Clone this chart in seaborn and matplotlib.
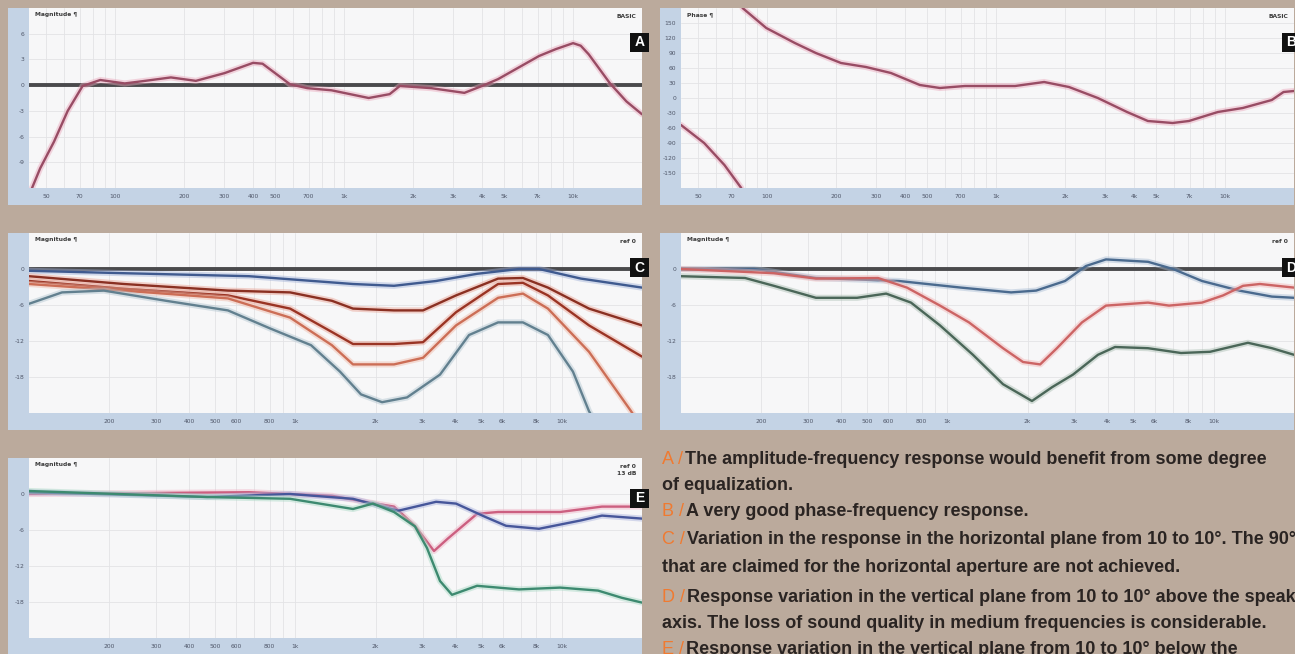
import numpy as np
import pandas as pd
import matplotlib
matplotlib.use('Agg')
import matplotlib.pyplot as plt
import matplotlib.patheffects as pe
from matplotlib import font_manager as fm
from matplotlib.patches import Rectangle
from matplotlib.text import Annotation
from matplotlib.ticker import FixedLocator, FixedFormatter, LogLocator, NullFormatter
import seaborn as sns

# ---------------- data ----------------
# Panel A : magnitude (dB)
A_freq = [43, 47, 54, 62, 72, 86, 110, 135, 175, 225, 300, 400, 440, 580, 690, 880, 1280,
          1580, 1750, 2400, 3350, 4000, 4700, 7100, 8400, 10000, 10800, 11700, 14500, 17100, 20000]
A_db = [-12.2, -9.7, -6.6, -3.0, -0.1, 0.6, 0.2, 0.5, 0.9, 0.5, 1.4, 2.6, 2.5, 0.1, -0.35, -0.6, -1.5,
        -1.05, -0.1, -0.35, -0.9, -0.1, 0.7, 3.4, 4.2, 4.9, 4.6, 3.6, 0.2, -1.9, -3.4]

# Panel B : phase (deg), wrapped part at low frequency + main part
B_low_freq = [42, 53, 65, 77]
B_low_deg = [-54, -90, -134, -180]
B_freq = [78, 99, 132, 163, 210, 270, 347, 464, 568, 730, 1210, 1620, 2080, 2780, 3730,
          4600, 5900, 6950, 9300, 11950, 16000, 18000, 20000]
B_deg = [180, 140, 110, 90, 70, 62, 50, 26, 20, 24, 24, 32, 22, 0, -28,
         -46, -50, -46, -28, -20, -4, 12, 14]

# Panel C : horizontal plane
C1_freq = [100, 227, 670, 1645, 2345, 3373, 4807, 6911, 8210, 11800, 20000]
C1_db = [-0.3, -0.7, -1.2, -2.5, -2.8, -2.0, -0.8, 0.0, 0.0, -1.6, -3.1]
C2_freq = [100, 227, 558, 955, 1371, 1645, 2345, 3013, 4009, 5764, 7147, 8869, 12650, 20000]
C2_db = [-1.2, -2.5, -3.6, -3.9, -5.3, -6.6, -6.9, -6.9, -4.4, -1.6, -1.5, -3.1, -6.6, -9.4]
C3_freq = [100, 227, 558, 955, 1371, 1645, 2345, 3013, 4009, 5764, 7147, 8869, 12650, 20000]
C3_db = [-2.0, -3.3, -4.4, -6.6, -10.5, -12.5, -12.5, -12.2, -7.2, -2.5, -2.3, -4.4, -9.4, -14.6]
C4_freq = [100, 227, 558, 955, 1371, 1645, 2345, 3013, 4009, 5764, 7147, 8869, 12650, 18200, 20000]
C4_db = [-2.5, -3.6, -4.9, -8.1, -12.7, -15.9, -15.9, -14.8, -9.4, -4.8, -4.1, -6.6, -13.8, -23.7, -26.5]
C5_freq = [100, 133, 191, 327, 558, 803, 1145, 1470, 1763, 2115, 2625, 3490, 4486, 5764,
           7147, 8869, 11010, 12650, 14000]
C5_db = [-5.8, -3.9, -3.6, -5.3, -6.9, -9.9, -12.7, -17.1, -20.9, -22.2, -21.4, -17.6, -11.0, -8.9,
         -8.9, -11.0, -17.1, -23.7, -27.0]

# Panel D : vertical plane above
D1_freq = [100, 188, 321, 658, 1124, 1734, 2153, 2763, 3313, 3937, 5662, 7030, 9032, 12450, 16530, 20000]
D1_db = [0.0, 0.0, -1.5, -2.0, -3.1, -3.9, -3.6, -2.0, 0.5, 1.6, 1.2, 0.0, -2.0, -3.6, -4.6, -4.8]
D2_freq = [100, 223, 321, 549, 705, 938, 1205, 1617, 1922, 2229, 2577, 3200, 3937, 5662, 6790,
           9032, 10840, 12880, 14900, 20000]
D2_db = [0.0, -0.7, -1.6, -1.5, -3.1, -6.1, -8.9, -13.2, -15.5, -15.9, -13.2, -8.9, -6.1, -5.6, -6.1,
         -5.6, -4.4, -2.8, -2.5, -3.1]
D3_freq = [100, 174, 223, 321, 458, 589, 730, 938, 1247, 1617, 2077, 2471, 2961, 3674, 4258,
           5662, 7532, 9677, 13430, 16530, 20000]
D3_db = [-1.2, -1.5, -2.8, -4.8, -4.8, -4.1, -5.6, -9.4, -14.3, -19.2, -22.0, -19.7, -17.6, -14.3, -13.0,
         -13.2, -14.0, -13.8, -12.3, -13.2, -14.3]

# Panel E : vertical plane below
E1_freq = [100, 670, 1371, 1826, 2345, 2810, 3313, 3740, 4807, 5764, 9850, 14150, 20000]
E1_db = [0.0, 0.3, -0.3, -1.3, -2.1, -5.3, -9.5, -7.4, -3.3, -3.0, -3.0, -2.1, -2.1]
E2_freq = [100, 466, 955, 1645, 2426, 3373, 4009, 5150, 6175, 8210, 11800, 14150, 20000]
E2_db = [0.3, -0.5, 0.0, -0.8, -2.8, -1.3, -1.6, -3.8, -5.3, -5.8, -4.4, -3.6, -4.1]
E3_freq = [100, 466, 955, 1645, 1955, 2345, 2810, 3118, 3490, 3871, 4807, 6911, 9850, 13680, 16800, 20000]
E3_db = [0.5, -0.5, -0.8, -2.5, -1.6, -3.0, -5.4, -9.0, -14.5, -16.8, -15.3, -15.9, -15.6, -16.1, -17.3, -18.1]

REF_LEVEL = 0.0

AB_ticks = [50, 70, 100, 200, 300, 400, 500, 700, 1000, 2000, 3000, 4000, 5000, 7000, 10000]
AB_labels = ['50', '70', '100', '200', '300', '400', '500', '700', '1k', '2k', '3k', '4k', '5k', '7k', '10k']
CDE_ticks = [200, 300, 400, 500, 600, 800, 1000, 2000, 3000, 4000, 5000, 6000, 8000, 10000]
CDE_labels = ['200', '300', '400', '500', '600', '800', '1k', '2k', '3k', '4k', '5k', '6k', '8k', '10k']
A_yticks = [6, 3, 0, -3, -6, -9]
B_yticks = [150, 120, 90, 60, 30, 0, -30, -60, -90, -120, -150]
CDE_yticks = [0, -6, -12, -18]

captions = [
    ("A /", "The amplitude-frequency response would benefit from some degree", 460),
    ("", "of equalization.", 485),
    ("B /", "A very good phase-frequency response.", 512),
    ("C /", "Variation in the response in the horizontal plane from 10 to 10°. The 90°", 540),
    ("", "that are claimed for the horizontal aperture are not achieved.", 568),
    ("D /", "Response variation in the vertical plane from 10 to 10° above the speaker", 597),
    ("", "axis. The loss of sound quality in medium frequencies is considerable.", 623),
    ("E /", "Response variation in the vertical plane from 10 to 10° below the", 650),
]

# ---------------- style ----------------
W, H = 1295, 654
BG = '#bbaa9c'
STRIP = '#c4d3e5'
FACE = '#f7f7f8'
GRID = '#e3e3e6'

sns.set_theme(style='white')
plt.rcParams['font.family'] = ['DejaVu Sans']


def pick_font(cands):
    for c in cands:
        try:
            fm.findfont(fm.FontProperties(family=c), fallback_to_default=False)
            return c
        except Exception:
            pass
    return 'DejaVu Sans'


CAP_FONT = pick_font(['Liberation Sans', 'Arimo', 'DejaVu Sans'])
BOX_FONT = pick_font(['Liberation Sans Narrow', 'DejaVu Sans Condensed', 'Liberation Sans'])

fig = plt.figure(figsize=(W / 100, H / 100), dpi=100, facecolor=BG)


def frac(x0, y0, x1, y1):
    return [x0 / W, 1 - y1 / H, (x1 - x0) / W, (y1 - y0) / H]


def to_df(series):
    parts = []
    for name, f, v in series:
        parts.append(pd.DataFrame({'freq': f, 'val': v, 'curve': name}))
    return pd.concat(parts, ignore_index=True)


def panel(ox, oy, xlim, xticks, xlabels, ylim, yticks, title, corner, letter, series, colors, halos,
          zero=True, letter_dy=25):
    outer = fig.add_axes(frac(ox, oy, ox + 634, oy + 197))
    outer.set_facecolor(STRIP)
    outer.set_xticks([])
    outer.set_yticks([])
    for s in outer.spines.values():
        s.set_visible(False)

    ax = fig.add_axes(frac(ox + 21, oy, ox + 634, oy + 180))
    ax.set_facecolor(FACE)
    ax.set_xscale('log')
    ax.set_xlim(*xlim)
    ax.set_ylim(*ylim)
    for s in ax.spines.values():
        s.set_visible(False)
    ax.xaxis.set_major_locator(FixedLocator(xticks))
    ax.xaxis.set_major_formatter(FixedFormatter(xlabels))
    ax.xaxis.set_minor_locator(LogLocator(base=10, subs=np.arange(2, 10)))
    ax.xaxis.set_minor_formatter(NullFormatter())
    ax.yaxis.set_major_locator(FixedLocator(yticks))
    ax.yaxis.set_major_formatter(FixedFormatter([str(t) for t in yticks]))
    ax.tick_params(axis='both', which='both', length=0, labelsize=4.3, labelcolor='#4f5668')
    ax.tick_params(axis='x', pad=4.2)
    ax.tick_params(axis='y', pad=3.5)
    ax.grid(True, which='both', axis='x', color=GRID, lw=0.6)
    ax.grid(True, which='major', axis='y', color=GRID, lw=0.6)

    if zero:
        ax.axhline(REF_LEVEL, color='#4a4a4c', lw=2.8, zorder=2)

    df = to_df(series)
    sns.lineplot(data=df, x='freq', y='val', hue='curve', palette=colors, sort=False,
                 estimator=None, legend=False, ax=ax, lw=1.7, zorder=3)
    names = [s[0] for s in series]
    for line, nm in zip(ax.lines[1 if zero else 0:], names):
        line.set_solid_joinstyle('round')
        line.set_path_effects([pe.Stroke(linewidth=4.4, foreground=halos[nm], alpha=0.45), pe.Normal()])
    ax.set_xlabel('')
    ax.set_ylabel('')

    ax.text(6 / 613, 1 - 4 / 180, title, transform=ax.transAxes, fontsize=4.3, fontweight='bold',
            color='#3a3a3a', va='top', ha='left')
    ax.text(1 - 6 / 613, 1 - 6 / 180, corner, transform=ax.transAxes, fontsize=4.3, fontweight='bold',
            color='#3a3a3a', va='top', ha='right', linespacing=1.5)

    # letter box
    bx0, by0 = ox + 622, oy + letter_dy
    fig.add_artist(Rectangle((bx0 / W, 1 - (by0 + 19) / H), 19 / W, 19 / H,
                             transform=fig.transFigure, facecolor='#111111', edgecolor='none', zorder=10))
    fig.text((bx0 + 9.5) / W, 1 - (by0 + 9.5) / H, letter, color='white', fontsize=10, fontweight='bold',
             ha='center', va='center', family=BOX_FONT, zorder=11)
    return ax


# Panel A
panel(8, 8, (42, 20000), AB_ticks, AB_labels, (-12, 9), A_yticks, 'Magnitude ¶', 'BASIC', 'A',
      [('A', A_freq, A_db)], {'A': '#984c64'}, {'A': '#eaa7bb'})

# Panel B
panel(660, 8, (42, 20000), AB_ticks, AB_labels, (-180, 180), B_yticks, 'Phase ¶', 'BASIC', 'B',
      [('B', B_freq, B_deg), ('Blow', B_low_freq, B_low_deg)],
      {'B': '#984c64', 'Blow': '#984c64'}, {'B': '#eaa7bb', 'Blow': '#eaa7bb'}, zero=False)

# Panel C
panel(8, 233, (100, 20000), CDE_ticks, CDE_labels, (-24, 6), CDE_yticks, 'Magnitude ¶', 'ref 0', 'C',
      [('c1', C1_freq, C1_db), ('c2', C2_freq, C2_db), ('c3', C3_freq, C3_db),
       ('c4', C4_freq, C4_db), ('c5', C5_freq, C5_db)],
      {'c1': '#3f5a8f', 'c2': '#8a3022', 'c3': '#9a3424', 'c4': '#cc6e56', 'c5': '#62808f'},
      {'c1': '#9fb0d8', 'c2': '#e8a090', 'c3': '#e8a090', 'c4': '#f0b8a6', 'c5': '#b0c4d0'})

# Panel D
panel(660, 233, (100, 20000), CDE_ticks, CDE_labels, (-24, 6), CDE_yticks, 'Magnitude ¶', 'ref 0', 'D',
      [('d1', D1_freq, D1_db), ('d2', D2_freq, D2_db), ('d3', D3_freq, D3_db)],
      {'d1': '#4a6a8e', 'd2': '#cc6464', 'd3': '#4a6658'},
      {'d1': '#a8bcd4', 'd2': '#f2b4b4', 'd3': '#a8bcb0'})

# Panel E
panel(8, 458, (100, 20000), CDE_ticks, CDE_labels, (-24, 6), CDE_yticks, 'Magnitude ¶', 'ref 0\n13 dB', 'E',
      [('e1', E1_freq, E1_db), ('e2', E2_freq, E2_db), ('e3', E3_freq, E3_db)],
      {'e1': '#cc5f80', 'e2': '#46569a', 'e3': '#3d8a70'},
      {'e1': '#f0b0c4', 'e2': '#a8b0dc', 'e3': '#a8d8c4'}, zero=False, letter_dy=31)

# Captions
FS = 12.95
for prefix, rest, yc in captions:
    if prefix:
        t = fig.text(662 / W, 1 - yc / H, prefix, color='#f07a30', fontsize=FS, family=CAP_FONT,
                     va='center', ha='left')
        fig.add_artist(Annotation(rest, xy=(1, 0), xycoords=t, xytext=(1.2, 0), textcoords='offset points',
                                  va='bottom', ha='left', fontsize=FS, family=CAP_FONT, fontweight='bold',
                                  color='#2a2422'))
    else:
        fig.text(662 / W, 1 - yc / H, rest, color='#2a2422', fontsize=FS, family=CAP_FONT,
                 fontweight='bold', va='center', ha='left')

fig.savefig('out.png', dpi=100, facecolor=BG)
